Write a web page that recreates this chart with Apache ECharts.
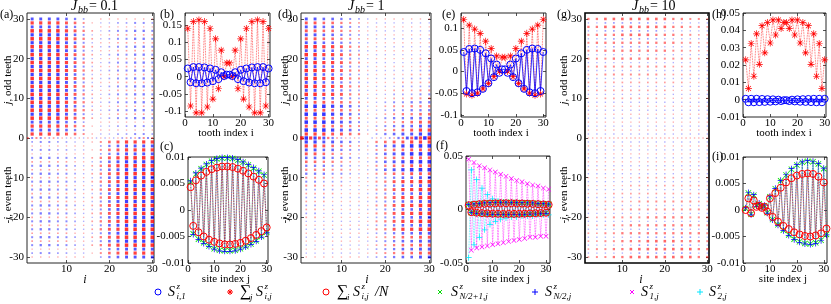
<!DOCTYPE html>
<html><head><meta charset="utf-8">
<script src="https://cdn.jsdelivr.net/npm/echarts/dist/echarts.min.js"></script>
<style>html,body{margin:0;padding:0;background:#fff}#c{width:831px;height:304px}</style>
</head><body><div id="c"></div>
<script>
// ---------------- DATA ----------------
// heat-map rows: '.'=0, '1'..'9' positive (red) level, 'a'..'i' negative (blue) level
// upper rows listed from j=30 (top) down to j=1; lower rows from j=-1 down to j=-30; 15 tooth columns each
const aOdd = [
"ffffedb.1111111","77776531aabbccb","ffffedb.1111111","88887642abccddc","ggggfeca1122222",
"88887642abccddc","ggggfeca1122222","88887642abccddc","ggggfeca1122222","88887642abccddc",
"ggggfeca1122222","88887642abccddc","ggggfeca1122222","88887642abccddc","ggggfeca1122222",
"88887642abccddc","ggggfeca1122222","88887642abccddc","ggggfeca1122222","88887642abccddc",
"ggggfeca1122222","88887642abccddc","ggggfeca1122222","88887642abccddc","ggggfeca1122222",
"88887642abccddc","ffffedb.1111111","77776531aabbccb","ffffedb.1111111","77776531aabbccb"];
const aEven = [
"bccbbaa13567777","1111111.bdeffff","bccbbaa13567777","1111111.bdeffff","cddccba24678888",
"2222211acefgggg","cddccba24678888","2222211acefgggg","cddccba24678888","2222211acefgggg",
"cddccba24678888","2222211acefgggg","cddccba24678888","2222211acefgggg","cddccba24678888",
"2222211acefgggg","cddccba24678888","2222211acefgggg","cddccba24678888","2222211acefgggg",
"cddccba24678888","2222211acefgggg","cddccba24678888","2222211acefgggg","cddccba24678888",
"2222211acefgggg","cddccba24678888","1111111.bdeffff","bccbbaa13567777","1111111.bdeffff"];
const aBack = "3c3c2b2b1a1a1a11a1a1a1b2b2c3c3";

const dOdd = [
"ffeedcba1111111","66554321aaaaaaa","ffeedcba1111111","66554321aaaaaaa","ffeedcba1111111",
"66554321aaaaaaa","ffeedcba1111111","88776431aaaaaaa","ffeedcba1111111","88776431aaaaaaa",
"ffeedcba1111122","88776431aaaaabb","ffeedcba1111122","88776431aaaaabb","ffeedcba1111222",
"88776431aaaabbb","ffeedcba1112222","88776431aaabbbb","ffeedcba1122233","88776431aabbbcc",
"ffeedcba1122333","66655431abccddd","hhhgfeca1233444","66655431abccddd","hhhgfeca1234455",
"66655431bcddeee","hhhgfeca1234566","66655431bcdeeff","hhhgfeca2345677","77766541bdeffgg"];
const dEven = [
"ggffedb14566777","7765432acefghhh","ffeedcb13455666","6654321acefghhh","eeeddcb13455666",
"5544321acefghhh","dddccba13455666","4443321acefghhh","dddccba13455666","3332211abcdeeff",
"ccbbbaa13467788","3322211abcdeeff","bbbbaaa13467788","2222111abcdeeff","bbbaaaa13467788",
"2221111abcdeeff","bbaaaaa13467788","2211111abcdeeff","bbaaaaa13467788","2211111abcdeeff",
"aaaaaaa13467788","1111111abcdeeff","aaaaaaa13467788","1111111abcdeeff","aaaaaaa12345566",
"1111111abcdeeff","aaaaaaa12345566","1111111abcdeeff","aaaaaaa12345566","1111111abcdeeff"];
const dBack = "8h7g6f4d2b1a1a..a1a1b2d4f6g7h8";

const gOdd = [
"445555555544332","aabbbbbbbaaaaaa","445555555544332","aabbbbbbbaaaaaa","344455554443322",
"aabbbbbbbaaaaaa","344444444443322","aaabbbbbaaaaaaa","334444444433221","aaaaaaaaaaaaaaa",
"333444443333221","aaaaaaaaaaaaaaa","233333333322211","aaaaaaaaaaaaaaa","223333333222211",
"aaaaaaaaaaaaaaa","222222222222111","aaaaaaaaaaaaaaa","122222222211111","aaaaaaaaaaaaaaa",
"112222222111111","aaaaaaaaaaaaaaa","111111111111111","aaaaaaaaaaaaaaa","111111111111111",
"aaaaaaaaaaaaaaa","111111111111111","aaaaaaaaaaaaaaa","111111111111111","aaaaaaaaaaaaaaa"];
const gEven = [
"aaaaaaaaaaaaaaa","111111111111111","aaaaaaaaaaaaaaa","111111111111111","aaaaaaaaaaaaaaa",
"111111111111111","aaaaaaaaaaaaaaa","111111111111111","aaaaaaaaaaaaaaa","111111222222211",
"aaaaaaaaaaaaaaa","111112222222221","aaaaaaaaaaaaaaa","111222222222222","aaaaaaaaaaaaaaa",
"112222333333322","aaaaaaaaaaaaaaa","112223333333332","aaaaaaaaaaaaaaa","122333344444333",
"aaaaaaaaaaaaaaa","122334444444433","aaaaaaabbbbbaaa","223344444444443","aaaaaabbbbbbbaa",
"223344455554443","aaaaaabbbbbbbaa","233445555555544","aaaaaabbbbbbbaa","233445555555544"];
const gBack = "111111111111111111111111111111";

const toothI = [1,2,3,4,5,6,7,8,9,10,11,12,13,14,15,16,17,18,19,20,21,22,23,24,25,26,27,28,29,30];
const site30 = [1,2,3,4,5,6,7,8,9,10,11,12,13,14,15,16,17,18,19,20,21,22,23,24,25,26,27,28,29,30];
const site31 = [1,2,3,4,5,6,7,8,9,10,11,12,13,14,15,16,17,18,19,20,21,22,23,24,25,26,27,28,29,30,31];

// (b) Jbb = 0.1
const bSumJ = [0.14,-0.085,0.16,-0.105,0.165,-0.105,0.16,-0.088,0.14,-0.065,0.11,-0.035,0.077,0.0,0.04,0.04,0.0,0.077,-0.035,0.11,-0.065,0.14,-0.088,0.16,-0.105,0.165,-0.105,0.16,-0.085,0.14];
const bSi1 = [0.024,-0.016,0.028,-0.019,0.028,-0.019,0.027,-0.017,0.024,-0.013,0.02,-0.007,0.013,0.002,0.006,0.006,0.002,0.013,-0.007,0.02,-0.013,0.024,-0.017,0.027,-0.019,0.028,-0.019,0.028,-0.016,0.024];
// (c)
const cSumI = [0.0043,-0.003,0.0056,-0.0042,0.0065,-0.005,0.0072,-0.0056,0.0077,-0.006,0.008,-0.0063,0.0082,-0.0065,0.0082,-0.0065,0.0081,-0.0064,0.0078,-0.0062,0.0074,-0.0058,0.0069,-0.0053,0.0063,-0.0047,0.0057,-0.004,0.005,-0.0033];
const cMidP = [0.0053,-0.0045,0.0068,-0.0055,0.0078,-0.0062,0.0086,-0.0068,0.0092,-0.0073,0.0096,-0.0076,0.0098,-0.0077,0.0098,-0.0077,0.0097,-0.0076,0.0094,-0.0073,0.009,-0.0069,0.0085,-0.0064,0.0079,-0.0058,0.0073,-0.005,0.0066,-0.0042];
const cMid = [0.0055,-0.0046,0.007,-0.0056,0.0079,-0.0063,0.0087,-0.0069,0.0093,-0.0074,0.0097,-0.0077,0.0099,-0.0078,0.0099,-0.0078,0.0098,-0.0077,0.0095,-0.0074,0.0091,-0.007,0.0086,-0.0065,0.008,-0.0059,0.0074,-0.0051,0.0067,-0.0043];
// (e) Jbb = 1
const eSumJ = [0.12,-0.052,0.107,-0.055,0.098,-0.05,0.088,-0.04,0.07,-0.028,0.053,-0.012,0.036,0.0,0.033,0.033,0.0,0.036,-0.012,0.053,-0.028,0.07,-0.04,0.088,-0.05,0.098,-0.055,0.107,-0.052,0.12];
const eSi1 = [0.045,-0.045,0.052,-0.05,0.053,-0.048,0.05,-0.04,0.042,-0.027,0.03,-0.013,0.016,-0.003,0.005,0.005,-0.003,0.016,-0.013,0.03,-0.027,0.042,-0.04,0.05,-0.048,0.053,-0.05,0.052,-0.045,0.045];
// (f)
const fSumI = [0.004,-0.0025,0.0045,-0.003,0.005,-0.0034,0.0053,-0.0037,0.0055,-0.0039,0.0057,-0.004,0.0058,-0.0041,0.0058,-0.0041,0.0058,-0.0041,0.0057,-0.004,0.0056,-0.0039,0.0054,-0.0037,0.0052,-0.0035,0.005,-0.0033,0.0047,-0.003,0.0044];
const fMidP = [0.0046,-0.0029,0.0052,-0.0035,0.0057,-0.0039,0.0061,-0.0043,0.0063,-0.0045,0.0065,-0.0046,0.0066,-0.0047,0.0067,-0.0047,0.0066,-0.0047,0.0065,-0.0046,0.0064,-0.0045,0.0062,-0.0043,0.006,-0.004,0.0057,-0.0038,0.0054,-0.0035,0.005];
const fMid = [0.0047,-0.003,0.0053,-0.0036,0.0058,-0.004,0.0062,-0.0044,0.0064,-0.0046,0.0066,-0.0047,0.0067,-0.0048,0.0068,-0.0048,0.0067,-0.0048,0.0066,-0.0047,0.0065,-0.0046,0.0063,-0.0044,0.0061,-0.0041,0.0058,-0.0039,0.0055,-0.0036,0.0051];
const fS1 = [0.047,-0.038,0.044,-0.036,0.041,-0.035,0.039,-0.034,0.037,-0.033,0.035,-0.032,0.033,-0.031,0.031,-0.03,0.029,-0.029,0.027,-0.028,0.026,-0.027,0.024,-0.026,0.023,-0.026,0.022,-0.025,0.02,-0.025,0.019];
const fS2 = [-0.045,0.037,-0.033,0.028,-0.026,0.02,-0.019,0.014,-0.014,0.01,-0.011,0.008,-0.009,0.007,-0.008,0.006,-0.007,0.006,-0.007,0.005,-0.006,0.005,-0.006,0.005,-0.006,0.005,-0.005,0.005,-0.005,0.005,-0.005];
// (h) Jbb = 10
const hSumJ = [0.023,0.0065,0.0324,0.0135,0.038,0.0204,0.0427,0.027,0.0445,0.0327,0.046,0.0373,0.046,0.041,0.0445,0.0445,0.041,0.046,0.0373,0.046,0.0327,0.0445,0.027,0.0427,0.0204,0.038,0.0135,0.0324,0.0065,0.023];
const hSi1 = [0.0005,-0.0015,0.0005,-0.0015,0.0005,-0.0014,0.0004,-0.0013,0.0003,-0.0012,0.0002,-0.001,0.0,-0.0008,-0.0003,-0.0003,-0.0008,0.0,-0.001,0.0002,-0.0012,0.0003,-0.0013,0.0004,-0.0014,0.0005,-0.0015,0.0005,-0.0015,0.0005];
// (i)
const iSumI = [0.0,0.0022,-0.0006,0.0018,0.0006,0.0008,0.0004,0.0006,-0.0003,0.0022,-0.0013,0.0032,-0.0022,0.0042,-0.003,0.0052,-0.0036,0.006,-0.0042,0.0065,-0.0046,0.0068,-0.0049,0.0069,-0.005,0.0068,-0.0048,0.0063,-0.0044,0.0052,-0.0035];
const iMidP = [0.0003,0.0032,-0.0008,0.0028,0.0008,0.0012,0.0005,0.0008,-0.0005,0.0025,-0.0018,0.004,-0.0028,0.0055,-0.0038,0.0066,-0.0047,0.0077,-0.0055,0.0085,-0.006,0.009,-0.0063,0.0092,-0.0064,0.0091,-0.0062,0.0087,-0.0057,0.0078,-0.0046];
const iMid = [0.0004,0.0033,-0.0009,0.0029,0.0007,0.0013,0.0004,0.0009,-0.0006,0.0026,-0.0019,0.0041,-0.0029,0.0056,-0.0039,0.0067,-0.0048,0.0078,-0.0056,0.0086,-0.0061,0.0091,-0.0064,0.0093,-0.0065,0.0092,-0.0063,0.0088,-0.0058,0.0079,-0.0047];

// tick labels
const heatXTicks = [10,20,30];
const heatYTicks = [-30,-20,-10,0,10,20,30];
const lineXTicks = [0,10,20,30];
const bYTicks = [-0.1,-0.05,0,0.05,0.1,0.15];
const cYTicks = [-0.01,-0.005,0,0.005,0.01];
const eYTicks = [-0.1,-0.05,0,0.05,0.1];
const fYTicks = [-0.05,0,0.05];
const hYTicks = [-0.01,0,0.01,0.02,0.03,0.04,0.05];
const iYTicks = [-0.01,-0.005,0,0.005,0.01];

// ---------------- CHART ----------------
const FONT = 'Liberation Serif';
const AX = '#262626';
const RED = '#ff0000', BLUE = '#0000ff', GREEN = '#00dd00', MAG = '#ff00ff', CYAN = '#00e5ff';
const SYM_AST = 'path://M-1,-10h2v20h-2z M-10,-1h20v2h-20z M-6.4,-7.8L7.8,6.4L6.4,7.8L-7.8,-6.4z M6.4,-7.8L7.8,-6.4L-6.4,7.8L-7.8,6.4z';
const SYM_X = 'path://M-6.4,-7.8L7.8,6.4L6.4,7.8L-7.8,-6.4z M6.4,-7.8L7.8,-6.4L-6.4,7.8L-7.8,6.4z';
const SYM_P = 'path://M-1.2,-10h2.4v20h-2.4z M-10,-1.2h20v2.4h-20z';

const grids = [
  {left:27, top:13, width:127, height:250},   // a
  {left:185, top:13, width:85, height:104},   // b
  {left:188, top:157, width:80, height:106},  // c
  {left:301, top:13, width:130, height:250},  // d
  {left:461, top:13, width:85, height:104},   // e
  {left:466, top:156, width:84, height:107},  // f
  {left:585, top:13, width:124, height:250},  // g
  {left:743, top:13, width:83, height:104},   // h
  {left:743, top:157, width:84, height:106}   // i
];
const xr = [[0.8,30.4],[0,30.5],[0,30.5],[0.8,30.4],[0,31],[0,31.5],[1.2,30.4],[0,30.5],[0,31.2]];
const yr = [[-31.5,31.5],[-0.117,0.185],[-0.01,0.01],[-31.5,31.5],[-0.105,0.135],[-0.05,0.05],[-31.5,31.5],[-0.01,0.05],[-0.01,0.01]];
const xt = [heatXTicks,lineXTicks,lineXTicks,heatXTicks,lineXTicks,lineXTicks,heatXTicks,lineXTicks,lineXTicks];
const yt = [heatYTicks,bYTicks,cYTicks,heatYTicks,eYTicks,fYTicks,heatYTicks,hYTicks,iYTicks];

const gridOpts = grids.map((g,k)=>Object.assign({show:true, borderColor: k===6?'#000':AX, borderWidth: k===6?1.6:1,
  backgroundColor:'rgba(0,0,0,0)', containLabel:false, outerBoundsMode:'none'}, g));

const xAxes = [], yAxes = [];
function mkAxis(k, isX, mirror){
  const ticks = isX ? xt[k] : yt[k];
  const r = isX ? xr[k] : yr[k];
  return {
    type:'value', gridIndex:k, min:r[0], max:r[1],
    position: isX ? (mirror?'top':'bottom') : (mirror?'right':'left'),
    axisLine:{show:false, onZero:false}, splitLine:{show:false},
    axisTick:{show:true, inside:true, length:3, customValues:ticks, lineStyle:{color:AX, width:0.8}},
    axisLabel:{show:!mirror, customValues:ticks, formatter:v=>String(v), fontFamily:FONT, fontSize:11, color:'#000', margin: isX?1:3, hideOverlap:false, showMinLabel:true, showMaxLabel:true},
    silent:true
  };
}
for (let m=0;m<2;m++) for (let k=0;k<9;k++){ xAxes.push(mkAxis(k,true,m===1)); yAxes.push(mkAxis(k,false,m===1)); }

function decode(ch){
  const c = ch.charCodeAt(0);
  if (c>=49 && c<=57) return c-48;
  if (c>=97 && c<=105) return -(c-96);
  return 0;
}
function heatData(upRows, lowRows, back){
  const pts = [];
  upRows.forEach((row,r)=>{ const j = 30-r; for(let c=0;c<row.length;c++){ const v=decode(row[c]); if(v) pts.push([2*c+2, j, v]); } });
  lowRows.forEach((row,r)=>{ const j = -(r+1); for(let c=0;c<row.length;c++){ const v=decode(row[c]); if(v) pts.push([2*c+2, j, v]); } });
  for (let c=0;c<back.length;c++){ const v=decode(back[c]); if(v) pts.push([c+1, 0, v]); }
  return pts;
}
function heatSeries(k, pts){
  return {type:'scatter', xAxisIndex:k, yAxisIndex:k, data:pts, symbol:'rect',
    symbolSize: d=>1.1+Math.abs(d[2])*0.3, silent:true, animation:false,
    itemStyle:{color: p=>{ const v=p.data[2]; const a=Math.min(1,0.3+Math.abs(v)*0.09).toFixed(2); return v>0?`rgba(255,0,0,${a})`:`rgba(0,0,255,${a})`; }}};
}
function lineSeries(k, xs, ys, sym, size, color, ltype, hollow, lw, z){
  return {type:'line', xAxisIndex:k, yAxisIndex:k, data: xs.map((x,i)=>[x, ys[i]]),
    symbol:sym, symbolSize:size, showSymbol:true, animation:false, silent:true, z:z||2,
    lineStyle:{color:color, width:lw||0.8, type:ltype, opacity: ltype==='dotted'?0.75:1},
    itemStyle:{color: hollow?'rgba(0,0,0,0)':color, borderColor: color, borderWidth: hollow?1:0}};
}

const series = [
  heatSeries(0, heatData(aOdd,aEven,aBack)),
  heatSeries(3, heatData(dOdd,dEven,dBack)),
  heatSeries(6, heatData(gOdd,gEven,gBack)),
  // b
  lineSeries(1, toothI, bSumJ, SYM_AST, 7, RED, 'dotted', false),
  lineSeries(1, toothI, bSi1, 'circle', 7, BLUE, 'solid', true),
  // c
  lineSeries(2, site30, cMidP, SYM_X, 6, GREEN, 'dotted', false),
  lineSeries(2, site30, cMid, SYM_P, 6, BLUE, 'dotted', false),
  lineSeries(2, site30, cSumI, 'circle', 7, RED, 'dotted', true, 0.8, 3),
  // e
  lineSeries(4, toothI, eSumJ, SYM_AST, 7, RED, 'dotted', false),
  lineSeries(4, toothI, eSi1, 'circle', 7, BLUE, 'solid', true),
  // f
  lineSeries(5, site31, fS1, SYM_X, 5, MAG, 'dotted', false),
  lineSeries(5, site31, fS2, SYM_P, 6, CYAN, 'dotted', false),
  lineSeries(5, site31, fMidP, SYM_X, 6, GREEN, 'dotted', false),
  lineSeries(5, site31, fMid, SYM_P, 6, BLUE, 'dotted', false),
  lineSeries(5, site31, fSumI, 'circle', 7, RED, 'dotted', true, 0.8, 3),
  // h
  lineSeries(7, toothI, hSumJ, SYM_AST, 7, RED, 'dotted', false),
  lineSeries(7, toothI, hSi1, 'circle', 7, BLUE, 'solid', true),
  // i
  lineSeries(8, site31, iMidP, SYM_X, 6, GREEN, 'dotted', false),
  lineSeries(8, site31, iMid, SYM_P, 6, BLUE, 'dotted', false),
  lineSeries(8, site31, iSumI, 'circle', 7, RED, 'dotted', true, 0.8, 3)
];

// ---------------- TEXT / LEGEND GRAPHICS ----------------
const G = [];
function tx(x,y,text,size,italic,align,rot){
  G.push({type:'text', x:x, y:y, rotation: rot||0, silent:true, z:10,
    style:{text:text, fontFamily:FONT, fontSize:size, fontStyle: italic?'italic':'normal', fill:'#000',
      align: align||'left', verticalAlign:'middle'}});
}
function rich(x,y,text,size,rot){
  G.push({type:'text', x:x, y:y, rotation: rot||0, silent:true, z:10,
    style:{text:text, fontFamily:FONT, fontSize:size, fill:'#000', align:'center', verticalAlign:'middle',
      rich:{it:{fontStyle:'italic', fontFamily:FONT, fontSize:size}}}});
}
function ln(x1,y1,x2,y2,color,w){ G.push({type:'line', silent:true, z:10, shape:{x1,y1,x2,y2}, style:{stroke:color, lineWidth:w||1}}); }
function Sz(x,y,sub){ tx(x,y,'S',14,true); tx(x+8.5,y-5.5,'z',9,true); tx(x+8.5,y+5,sub,9,true); }

// panel letters
[['(a)',0,15],['(b)',160,15],['(c)',160,147],['(d)',278,15],['(e)',442,15],['(f)',436,146],['(g)',557,15],['(h)',712,15],['(i)',712,157]]
  .forEach(p=>tx(p[1],p[2],p[0],12,false));
// titles
function title(x,val){ tx(x,6,'J',14,true); tx(x+7,10,'bb',10,true); tx(x+18,6,'= '+val,14,false); }
title(71,'0.1'); title(348,'1'); title(632,'10');
// axis names
tx(85,280,'i',12,true,'center'); tx(367,280,'i',12,true,'center'); tx(641,280,'i',12,true,'center');
tx(226,133,'tooth index i',11,false,'center'); tx(501,133,'tooth index i',11,false,'center'); tx(784,133,'tooth index i',11,false,'center');
tx(226,279,'site index j',11,false,'center'); tx(506,279,'site index j',11,false,'center'); tx(783,279,'site index j',11,false,'center');
rich(8,80,'{it|j}, odd teeth',11,Math.PI/2); rich(8,195,'-{it|j}, even teeth',11,Math.PI/2);
rich(285,80,'{it|j}, odd teeth',11,Math.PI/2); rich(285,195,'-{it|j}, even teeth',11,Math.PI/2);
rich(564,80,'{it|j}, odd teeth',11,Math.PI/2); rich(564,195,'-{it|j}, even teeth',11,Math.PI/2);

// legend
const LY = 292;
G.push({type:'circle', silent:true, z:10, shape:{cx:158, cy:LY, r:3}, style:{fill:'none', stroke:BLUE, lineWidth:1}});
Sz(168,LY,'i,1');
ln(227,LY,233,LY,RED); ln(230,LY-3,230,LY+3,RED); ln(228,LY-2,232,LY+2,RED); ln(232,LY-2,228,LY+2,RED);
tx(240,LY,'∑',16,false); tx(250,LY+6,'j',9,true); Sz(256,LY,'i,j');
G.push({type:'circle', silent:true, z:10, shape:{cx:326, cy:LY, r:3}, style:{fill:'none', stroke:RED, lineWidth:1}});
tx(337,LY,'∑',16,false); tx(347,LY+6,'i',9,true); Sz(353,LY,'i,j'); tx(375,LY,'/N',14,true);
ln(438,LY-2,442,LY+2,GREEN); ln(442,LY-2,438,LY+2,GREEN); Sz(451,LY,'N/2+1,j');
ln(532,LY,538,LY,BLUE); ln(535,LY-3,535,LY+3,BLUE); Sz(545,LY,'N/2,j');
ln(630,LY-2,634,LY+2,MAG); ln(634,LY-2,630,LY+2,MAG); Sz(641,LY,'1,j');
ln(697,LY,703,LY,CYAN); ln(700,LY-3,700,LY+3,CYAN); Sz(709,LY,'2,j');

const chart = echarts.init(document.getElementById('c'), null, {renderer:'canvas', width:831, height:304});
chart.setOption({
  animation:false, backgroundColor:'#fff',
  grid: gridOpts, xAxis: xAxes, yAxis: yAxes, series: series, graphic: G
});
</script></body></html>
